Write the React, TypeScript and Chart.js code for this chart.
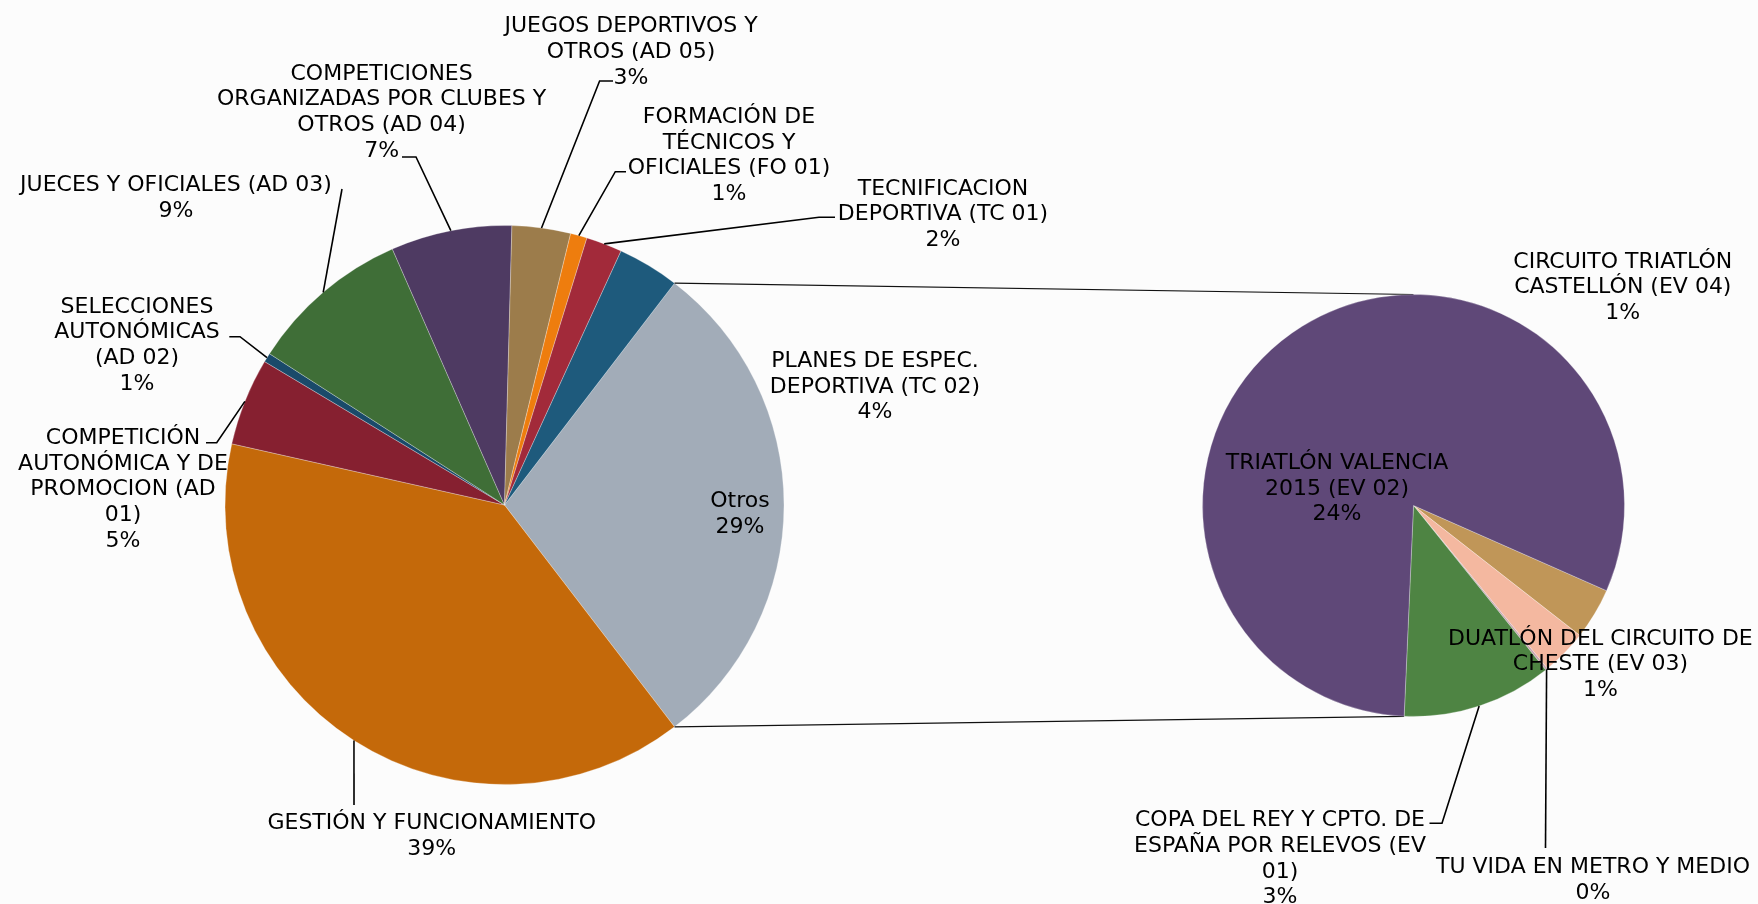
import React, { useEffect, useRef } from "react";
import { Chart, registerables } from "chart.js";

Chart.register(...registerables);

// ---------- DATA ----------
// Main pie (clockwise, starting with the aggregated "Otros" slice)
const mainCategories: string[] = [
  "Otros",
  "GESTIÓN Y FUNCIONAMIENTO",
  "COMPETICIÓN\nAUTONÓMICA Y DE\nPROMOCION (AD\n01)",
  "SELECCIONES\nAUTONÓMICAS\n(AD 02)",
  "JUECES Y OFICIALES (AD 03)",
  "COMPETICIONES\nORGANIZADAS POR CLUBES Y\nOTROS (AD 04)",
  "JUEGOS DEPORTIVOS Y\nOTROS (AD 05)",
  "FORMACIÓN DE\nTÉCNICOS Y\nOFICIALES (FO 01)",
  "TECNIFICACION\nDEPORTIVA (TC 01)",
  "PLANES DE ESPEC.\nDEPORTIVA (TC 02)",
];
// values (share of total, %) for the main-pie categories other than "Otros"
const mainValues: number[] = [38.9, 5.06, 0.53, 9.32, 6.99, 3.38, 0.96, 2.08, 3.56];

// Secondary pie (breakdown of "Otros"), clockwise
const subCategories: string[] = [
  "CIRCUITO TRIATLÓN\nCASTELLÓN (EV 04)",
  "DUATLÓN DEL CIRCUITO DE\nCHESTE (EV 03)",
  "TU VIDA EN METRO Y MEDIO",
  "COPA DEL REY Y CPTO. DE\nESPAÑA POR RELEVOS (EV\n01)",
  "TRIATLÓN VALENCIA\n2015 (EV 02)",
];
const subValues: number[] = [1.15, 1.02, 0.05, 3.35, 23.6];

// ---------- STYLE / LAYOUT ----------
const mainColors = [
  "#A2ACB8", "#C4690A", "#862030", "#1A4A6A", "#3F6E37",
  "#4E3A62", "#9C7C4B", "#EE7D0E", "#A22A3A", "#1E5A7C",
];
const subColors = ["#C09658", "#F4B8A0", "#C9A3AE", "#4E8443", "#5F4878"];

const W = 1758;
const H = 904;
const FONT_SIZE = 22;
const LINE_H = 25.7;
const CAP = 0.729 * FONT_SIZE;
const FONT = `${FONT_SIZE}px "DejaVu Sans", Verdana, sans-serif`;

type LabelLayout = { cx: number; cy: number; leader?: number[][] };

const mainLabelLayout: LabelLayout[] = [
  { cx: 740, cy: 499 },
  { cx: 431.7, cy: 821.3, leader: [[354, 805]] },
  { cx: 123, cy: 436, leader: [[216.7, 442.7], [206, 442.7]] },
  { cx: 137, cy: 304.5, leader: [[240, 336.7], [229.3, 336.7]] },
  { cx: 176, cy: 183.3, leader: [[342, 189]] },
  { cx: 381.6, cy: 71.7, leader: [[416, 157], [402, 157]] },
  { cx: 631, cy: 24.3, leader: [[599.6, 81], [613, 81]] },
  { cx: 729, cy: 115, leader: [[615.3, 171.7], [626, 171.7]] },
  { cx: 943, cy: 186.7, leader: [[819, 217.3], [835, 217.3]] },
  { cx: 875, cy: 359 },
];
const subLabelLayout: LabelLayout[] = [
  { cx: 1622.8, cy: 259.5 },
  { cx: 1600.4, cy: 636.7 },
  { cx: 1593, cy: 865, leader: [[1545.5, 848]] },
  { cx: 1280, cy: 818.3, leader: [[1442, 823.3], [1429.5, 823.3]] },
  { cx: 1337, cy: 460.8 },
];

const MAIN_CENTER = { x: 504.5, y: 505, r: 279.5 };
const SUB_CENTER = { x: 1413.5, y: 505.5, r: 211 };
const SUB_ROTATION = 113.8;

const sum = (a: number[]) => a.reduce((s, v) => s + v, 0);

function labelPlugin(id: string, layouts: LabelLayout[], grandTotal: number) {
  return {
    id,
    afterDraw(chart: any) {
      const ctx = chart.ctx as CanvasRenderingContext2D;
      const meta = chart.getDatasetMeta(0);
      const data = chart.data.datasets[0].data as number[];
      const labels = chart.data.labels as string[];
      ctx.save();
      meta.data.forEach((arc: any, i: number) => {
        const L = layouts[i];
        if (!L) return;
        const p = arc.getProps(["x", "y", "startAngle", "endAngle", "outerRadius"], true);
        const mid = (p.startAngle + p.endAngle) / 2;
        if (L.leader && L.leader.length) {
          ctx.beginPath();
          ctx.moveTo(p.x + Math.cos(mid) * p.outerRadius, p.y + Math.sin(mid) * p.outerRadius);
          L.leader.forEach(([x, y]) => ctx.lineTo(x, y));
          ctx.strokeStyle = "#000";
          ctx.lineWidth = 1.6;
          ctx.stroke();
        }
        const pct = Math.round((data[i] / grandTotal) * 100) + "%";
        const lines = String(labels[i]).split("\n").concat([pct]);
        ctx.font = FONT;
        ctx.fillStyle = "#000";
        ctx.textAlign = "center";
        ctx.textBaseline = "alphabetic";
        lines.forEach((t, k) => ctx.fillText(t, L.cx, L.cy + k * LINE_H + CAP / 2));
      });
      ctx.restore();
    },
  };
}

export default function App() {
  const mainRef = useRef<HTMLCanvasElement | null>(null);
  const subRef = useRef<HTMLCanvasElement | null>(null);

  useEffect(() => {
    if (!mainRef.current || !subRef.current) return;
    const otros = sum(subValues);
    const mainData = [otros, ...mainValues];
    const grandTotal = sum(mainData);
    const otrosDeg = (otros / grandTotal) * 360;

    const mainChart = new Chart(mainRef.current, {
      type: "pie",
      data: {
        labels: mainCategories,
        datasets: [
          {
            data: mainData,
            backgroundColor: mainColors,
            borderColor: "rgba(255,255,255,0.35)",
            borderWidth: 0.8,
          },
        ],
      },
      options: {
        responsive: false,
        animation: false,
        events: [],
        radius: MAIN_CENTER.r,
        rotation: 90 - otrosDeg / 2,
        layout: {
          padding: {
            left: 0,
            right: W - 2 * MAIN_CENTER.x,
            top: 2 * MAIN_CENTER.y - H,
            bottom: 0,
          },
        },
        plugins: { legend: { display: false }, tooltip: { enabled: false }, title: { display: false } },
      } as any,
      plugins: [labelPlugin("mainLabels", mainLabelLayout, grandTotal)],
    });

    const connectorPlugin = {
      id: "connectors",
      beforeDatasetsDraw(chart: any) {
        const m = mainChart.getDatasetMeta(0).data[0] as any;
        const mp = m.getProps(["x", "y", "startAngle", "endAngle", "outerRadius"], true);
        const sMeta = chart.getDatasetMeta(0);
        const last = sMeta.data[sMeta.data.length - 1] as any;
        const sp = last.getProps(["x", "y", "startAngle", "endAngle", "outerRadius"], true);
        const ctx = chart.ctx as CanvasRenderingContext2D;
        ctx.save();
        ctx.strokeStyle = "#111";
        ctx.lineWidth = 1.2;
        ctx.beginPath();
        ctx.moveTo(mp.x + Math.cos(mp.startAngle) * mp.outerRadius, mp.y + Math.sin(mp.startAngle) * mp.outerRadius);
        ctx.lineTo(sp.x, sp.y - sp.outerRadius);
        ctx.moveTo(mp.x + Math.cos(mp.endAngle) * mp.outerRadius, mp.y + Math.sin(mp.endAngle) * mp.outerRadius);
        ctx.lineTo(sp.x + Math.cos(sp.startAngle) * sp.outerRadius, sp.y + Math.sin(sp.startAngle) * sp.outerRadius);
        ctx.stroke();
        ctx.restore();
      },
    };

    const subChart = new Chart(subRef.current, {
      type: "pie",
      data: {
        labels: subCategories,
        datasets: [
          {
            data: subValues,
            backgroundColor: subColors,
            borderColor: "rgba(255,255,255,0.35)",
            borderWidth: 0.8,
          },
        ],
      },
      options: {
        responsive: false,
        animation: false,
        events: [],
        radius: SUB_CENTER.r,
        rotation: SUB_ROTATION,
        layout: {
          padding: {
            left: 2 * SUB_CENTER.x - W,
            right: 0,
            top: 2 * SUB_CENTER.y - H,
            bottom: 0,
          },
        },
        plugins: { legend: { display: false }, tooltip: { enabled: false }, title: { display: false } },
      } as any,
      plugins: [connectorPlugin, labelPlugin("subLabels", subLabelLayout, grandTotal)],
    });

    return () => {
      subChart.destroy();
      mainChart.destroy();
    };
  }, []);

  return (
    <div
      style={{
        position: "fixed",
        left: 0,
        top: 0,
        width: W,
        height: H,
        background: "#fcfcfc",
        overflow: "hidden",
      }}
    >
      <canvas ref={mainRef} width={W} height={H} style={{ position: "absolute", left: 0, top: 0 }} />
      <canvas ref={subRef} width={W} height={H} style={{ position: "absolute", left: 0, top: 0 }} />
    </div>
  );
}
